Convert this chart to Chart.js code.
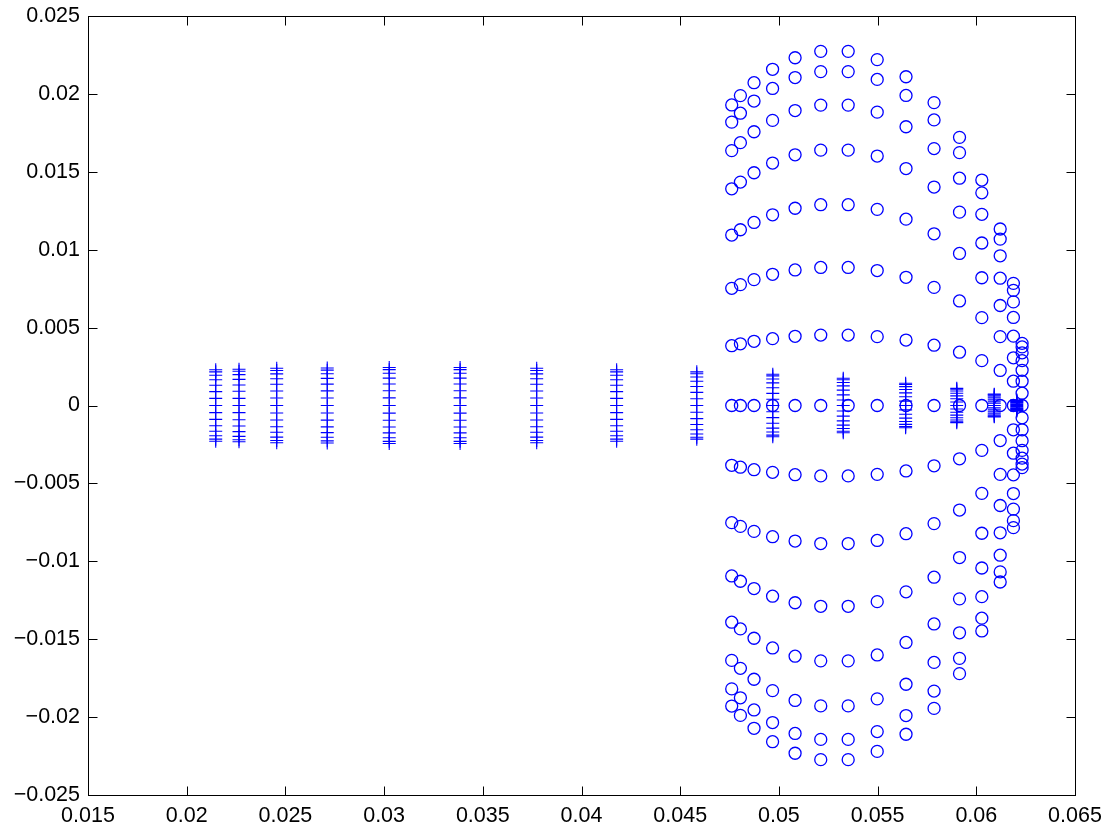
<!DOCTYPE html>
<html>
<head>
<meta charset="utf-8">
<script src="https://cdn.jsdelivr.net/npm/chart.js@4/dist/chart.umd.min.js"></script>
<style>
    html, body { margin: 0; padding: 0; background: #fff; }
    #wrap { width: 1106px; height: 829px; position: relative; }
</style>
</head>
<body>
<div id="wrap"><canvas id="chart"></canvas></div>
<script>
// tick positions and labels (MATLAB style axes)
const xTicks = [0.015, 0.02, 0.025, 0.03, 0.035, 0.04, 0.045, 0.05, 0.055, 0.06, 0.065];
const xTickLabels = ['0.015', '0.02', '0.025', '0.03', '0.035', '0.04', '0.045', '0.05', '0.055', '0.06', '0.065'];
const yTicks = [-0.025, -0.02, -0.015, -0.01, -0.005, 0, 0.005, 0.01, 0.015, 0.02, 0.025];
const yTickLabels = ['\u22120.025', '\u22120.02', '\u22120.015', '\u22120.01', '\u22120.005', '0', '0.005', '0.01', '0.015', '0.02', '0.025'];

// '+' markers: one x per column, y values of each column
const plusX = [0.02147, 0.02265, 0.02456, 0.02712, 0.03026, 0.03385, 0.03773, 0.04178, 0.04584, 0.04969, 0.05326, 0.05642, 0.05901, 0.06091, 0.06205];
const plusY = [
    [0.00229, 0.00216, 0.00194, 0.00165, 0.00130, 0.00089, 0.00046, 0, -0.00046, -0.00089, -0.00130, -0.00165, -0.00194, -0.00216, -0.00229],
    [0.00233, 0.00220, 0.00198, 0.00168, 0.00132, 0.00091, 0.00046, 0, -0.00046, -0.00091, -0.00132, -0.00168, -0.00198, -0.00220, -0.00233],
    [0.00239, 0.00225, 0.00203, 0.00172, 0.00136, 0.00093, 0.00048, 0, -0.00048, -0.00093, -0.00136, -0.00172, -0.00203, -0.00225, -0.00239],
    [0.00241, 0.00227, 0.00204, 0.00174, 0.00137, 0.00094, 0.00048, 0, -0.00048, -0.00094, -0.00137, -0.00174, -0.00204, -0.00227, -0.00241],
    [0.00244, 0.00230, 0.00207, 0.00176, 0.00138, 0.00095, 0.00049, 0, -0.00049, -0.00095, -0.00138, -0.00176, -0.00207, -0.00230, -0.00244],
    [0.00244, 0.00230, 0.00207, 0.00176, 0.00138, 0.00095, 0.00049, 0, -0.00049, -0.00095, -0.00138, -0.00176, -0.00207, -0.00230, -0.00244],
    [0.00239, 0.00225, 0.00203, 0.00172, 0.00136, 0.00093, 0.00048, 0, -0.00048, -0.00093, -0.00136, -0.00172, -0.00203, -0.00225, -0.00239],
    [0.00229, 0.00216, 0.00194, 0.00165, 0.00130, 0.00089, 0.00046, 0, -0.00046, -0.00089, -0.00130, -0.00165, -0.00194, -0.00216, -0.00229],
    [0.00216, 0.00204, 0.00183, 0.00156, 0.00122, 0.00084, 0.00043, 0, -0.00043, -0.00084, -0.00122, -0.00156, -0.00183, -0.00204, -0.00216],
    [0.00201, 0.00190, 0.00170, 0.00145, 0.00114, 0.00078, 0.00040, 0, -0.00040, -0.00078, -0.00114, -0.00145, -0.00170, -0.00190, -0.00201],
    [0.00175, 0.00165, 0.00148, 0.00126, 0.00099, 0.00068, 0.00035, 0, -0.00035, -0.00068, -0.00099, -0.00126, -0.00148, -0.00165, -0.00175],
    [0.00143, 0.00135, 0.00121, 0.00103, 0.00081, 0.00056, 0.00028, 0, -0.00028, -0.00056, -0.00081, -0.00103, -0.00121, -0.00135, -0.00143],
    [0.00110, 0.00104, 0.00093, 0.00079, 0.00062, 0.00043, 0.00022, 0, -0.00022, -0.00043, -0.00062, -0.00079, -0.00093, -0.00104, -0.00110],
    [0.00073, 0.00069, 0.00062, 0.00053, 0.00041, 0.00028, 0.00015, 0, -0.00015, -0.00028, -0.00041, -0.00053, -0.00062, -0.00069, -0.00073],
    [0.00035, 0.00033, 0.00030, 0.00025, 0.00020, 0.00014, 0.00007, 0, -0.00007, -0.00014, -0.00020, -0.00025, -0.00030, -0.00033, -0.00035]
];

// 'o' markers: one x per column, y values of each column
const circleX = [0.04761, 0.04805, 0.04874, 0.04968, 0.05082, 0.05212, 0.05351, 0.05498, 0.05644, 0.05786, 0.05915, 0.06028, 0.06121, 0.06188, 0.06232];
const circleY = [
    [0.01929, 0.01819, 0.01636, 0.01391, 0.01094, 0.00752, 0.00384, 0, -0.00384, -0.00752, -0.01094, -0.01391, -0.01636, -0.01819, -0.01929],
    [0.01989, 0.01876, 0.01687, 0.01434, 0.01128, 0.00776, 0.00396, 0, -0.00396, -0.00776, -0.01128, -0.01434, -0.01687, -0.01876, -0.01989],
    [0.02072, 0.01954, 0.01757, 0.01494, 0.01175, 0.00808, 0.00412, 0, -0.00412, -0.00808, -0.01175, -0.01494, -0.01757, -0.01954, -0.02072],
    [0.02158, 0.02035, 0.01830, 0.01556, 0.01224, 0.00842, 0.00429, 0, -0.00429, -0.00842, -0.01224, -0.01556, -0.01830, -0.02035, -0.02158],
    [0.02232, 0.02105, 0.01893, 0.01609, 0.01266, 0.00870, 0.00444, 0, -0.00444, -0.00870, -0.01266, -0.01609, -0.01893, -0.02105, -0.02232],
    [0.02273, 0.02143, 0.01928, 0.01639, 0.01289, 0.00886, 0.00452, 0, -0.00452, -0.00886, -0.01289, -0.01639, -0.01928, -0.02143, -0.02273],
    [0.02273, 0.02143, 0.01928, 0.01639, 0.01289, 0.00886, 0.00452, 0, -0.00452, -0.00886, -0.01289, -0.01639, -0.01928, -0.02143, -0.02273],
    [0.02220, 0.02093, 0.01883, 0.01601, 0.01259, 0.00866, 0.00442, 0, -0.00442, -0.00866, -0.01259, -0.01601, -0.01883, -0.02093, -0.02220],
    [0.02110, 0.01990, 0.01789, 0.01521, 0.01196, 0.00823, 0.00420, 0, -0.00420, -0.00823, -0.01196, -0.01521, -0.01789, -0.01990, -0.02110],
    [0.01944, 0.01833, 0.01649, 0.01402, 0.01102, 0.00758, 0.00387, 0, -0.00387, -0.00758, -0.01102, -0.01402, -0.01649, -0.01833, -0.01944],
    [0.01721, 0.01623, 0.01459, 0.01241, 0.00976, 0.00671, 0.00342, 0, -0.00342, -0.00671, -0.00976, -0.01241, -0.01459, -0.01623, -0.01721],
    [0.01447, 0.01365, 0.01227, 0.01043, 0.00820, 0.00564, 0.00288, 0, -0.00288, -0.00564, -0.00820, -0.01043, -0.01227, -0.01365, -0.01447],
    [0.01133, 0.01068, 0.00961, 0.00817, 0.00642, 0.00442, 0.00225, 0, -0.00225, -0.00442, -0.00642, -0.00817, -0.00961, -0.01068, -0.01133],
    [0.00784, 0.00739, 0.00665, 0.00565, 0.00445, 0.00306, 0.00156, 0, -0.00156, -0.00306, -0.00445, -0.00565, -0.00665, -0.00739, -0.00784],
    [0.00399, 0.00376, 0.00338, 0.00288, 0.00226, 0.00156, 0.00079, 0, -0.00079, -0.00156, -0.00226, -0.00288, -0.00338, -0.00376, -0.00399]
];

function toPoints(xs, ys) {
    const pts = [];
    xs.forEach((x, i) => ys[i].forEach(y => pts.push({ x: x, y: y })));
    return pts;
}

const FONT = { family: "'Liberation Sans', Arial, Helvetica, sans-serif", size: 21.5 };
const TICK_LEN = 9;

// box round the plot area with inward ticks on all four sides
const matlabAxes = {
    id: 'matlabAxes',
    afterDraw(chart) {
        const { ctx, chartArea: a, scales } = chart;
        const L = Math.round(a.left) + 0.5, R = Math.round(a.right) + 0.5;
        const T = Math.round(a.top) + 0.5, B = Math.round(a.bottom) + 0.5;
        ctx.save();
        ctx.strokeStyle = '#000';
        ctx.lineWidth = 1;
        ctx.beginPath();
        xTicks.forEach(v => {
            const px = Math.round(scales.x.getPixelForValue(v)) + 0.5;
            ctx.moveTo(px, B); ctx.lineTo(px, B - TICK_LEN);
            ctx.moveTo(px, T); ctx.lineTo(px, T + TICK_LEN);
        });
        yTicks.forEach(v => {
            const py = Math.round(scales.y.getPixelForValue(v)) + 0.5;
            ctx.moveTo(L, py); ctx.lineTo(L + TICK_LEN, py);
            ctx.moveTo(R, py); ctx.lineTo(R - TICK_LEN, py);
        });
        ctx.stroke();
        ctx.strokeRect(L, T, R - L, B - T);
        ctx.restore();
    }
};

new Chart(document.getElementById('chart'), {
    type: 'scatter',
    data: {
        datasets: [
            {
                label: 'plus',
                data: toPoints(plusX, plusY),
                pointStyle: 'cross',
                pointRadius: 6.5,
                borderColor: '#0000ff',
                backgroundColor: '#0000ff',
                borderWidth: 1.1
            },
            {
                label: 'circle',
                data: toPoints(circleX, circleY),
                pointStyle: 'circle',
                pointRadius: 6,
                borderColor: '#0000ff',
                backgroundColor: 'rgba(0,0,0,0)',
                borderWidth: 1.3
            }
        ]
    },
    options: {
        responsive: true,
        maintainAspectRatio: false,
        animation: false,
        events: [],
        layout: { padding: { top: 16, right: 31, left: 0, bottom: 0 } },
        plugins: {
            legend: { display: false },
            tooltip: { enabled: false }
        },
        scales: {
            x: {
                type: 'linear',
                min: 0.015,
                max: 0.065,
                afterBuildTicks: s => { s.ticks = xTicks.map(v => ({ value: v })); },
                afterFit: s => {
                    s.height = 34;
                    s.paddingLeft = 0;
                    s.paddingRight = 0;
                },
                grid: { display: false, drawTicks: false },
                border: { display: false },
                ticks: {
                    autoSkip: false,
                    maxRotation: 0,
                    padding: 8,
                    color: '#000',
                    font: FONT,
                    callback: (v, i) => xTickLabels[i]
                }
            },
            y: {
                type: 'linear',
                min: -0.025,
                max: 0.025,
                afterBuildTicks: s => { s.ticks = yTicks.map(v => ({ value: v })); },
                afterFit: s => {
                    s.width = 88;
                    s.paddingTop = 0;
                    s.paddingBottom = 0;
                },
                grid: { display: false, drawTicks: false },
                border: { display: false },
                ticks: {
                    autoSkip: false,
                    padding: 8,
                    color: '#000',
                    font: FONT,
                    callback: (v, i) => yTickLabels[i]
                }
            }
        }
    },
    plugins: [matlabAxes]
});
</script>
</body>
</html>
